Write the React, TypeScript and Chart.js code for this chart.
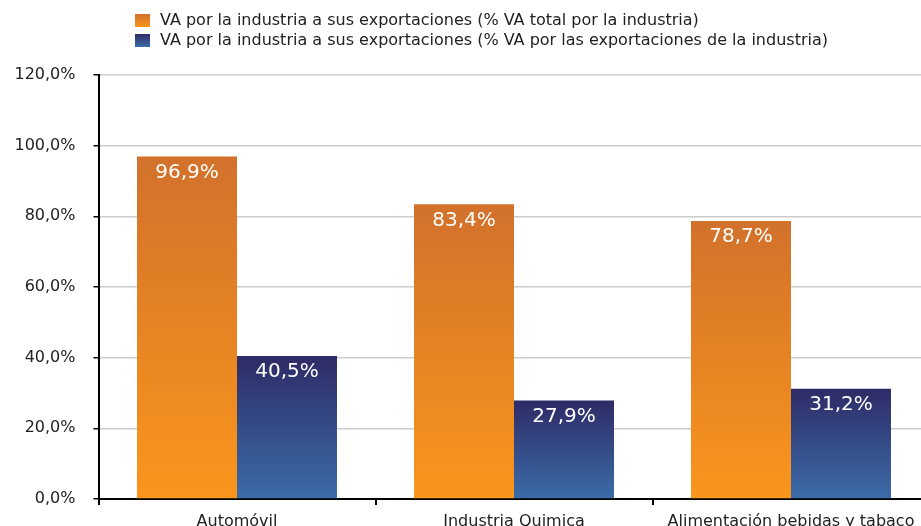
import React, { useEffect, useRef } from "react";
import { Chart, registerables } from "chart.js";

Chart.register(...registerables);

const categories = ["Automóvil", "Industria Quimica", "Alimentación bebidas y tabaco"];
const seriesNames = [
  "VA por la industria a sus exportaciones (% VA total por la industria)",
  "VA por la industria a sus exportaciones (% VA por las exportaciones de la industria)",
];
const seriesTotal = [96.9, 83.4, 78.7];
const seriesExports = [40.5, 27.9, 31.2];
const yTicks = [0, 20, 40, 60, 80, 100, 120];

const FONT = "'DejaVu Sans', 'Liberation Sans', sans-serif";
const ORANGE = ["#D2712B", "#FA961C"];
const BLUE = ["#2E2B66", "#3B6CA8"];

const fmt = (v: number) => v.toFixed(1).replace(".", ",") + "%";

function barGradient(colors: string[]) {
  return (ctx: any) => {
    const chart = ctx.chart;
    const y = chart.scales?.y;
    if (!y || ctx.parsed == null) return colors[1];
    const top = y.getPixelForValue(ctx.parsed.y);
    const bottom = y.getPixelForValue(0);
    if (!isFinite(top) || !isFinite(bottom) || top === bottom) return colors[1];
    const g = chart.ctx.createLinearGradient(0, top, 0, bottom);
    g.addColorStop(0, colors[0]);
    g.addColorStop(1, colors[1]);
    return g;
  };
}

const legendPlugin = {
  id: "customLegend",
  afterDraw(chart: any) {
    const c = chart.ctx;
    const items = [
      { text: seriesNames[0], colors: ORANGE, y: 14 },
      { text: seriesNames[1], colors: BLUE, y: 34 },
    ];
    c.save();
    items.forEach((it) => {
      const g = c.createLinearGradient(0, it.y, 0, it.y + 13);
      g.addColorStop(0, it.colors[0]);
      g.addColorStop(1, it.colors[1]);
      c.fillStyle = g;
      c.fillRect(135, it.y, 15, 13);
      c.fillStyle = "#222222";
      c.font = `16px ${FONT}`;
      c.textBaseline = "middle";
      c.textAlign = "left";
      c.fillText(it.text, 160, it.y + 7);
    });
    c.restore();
  },
};

const valueLabelPlugin = {
  id: "valueLabels",
  afterDatasetsDraw(chart: any) {
    const c = chart.ctx;
    c.save();
    c.fillStyle = "#FFFFFF";
    c.font = `20px ${FONT}`;
    c.textAlign = "center";
    c.textBaseline = "middle";
    chart.data.datasets.forEach((ds: any, di: number) => {
      const meta = chart.getDatasetMeta(di);
      meta.data.forEach((bar: any, i: number) => {
        c.fillText(fmt(ds.data[i]), bar.x, bar.y + 16);
      });
    });
    c.restore();
  },
};

export default function App() {
  const ref = useRef<HTMLCanvasElement | null>(null);

  useEffect(() => {
    if (!ref.current) return;
    const chart = new Chart(ref.current, {
      type: "bar",
      data: {
        labels: categories,
        datasets: [
          {
            label: seriesNames[0],
            data: seriesTotal,
            backgroundColor: barGradient(ORANGE),
            categoryPercentage: 0.722,
            barPercentage: 1,
          },
          {
            label: seriesNames[1],
            data: seriesExports,
            backgroundColor: barGradient(BLUE),
            categoryPercentage: 0.722,
            barPercentage: 1,
          },
        ],
      },
      options: {
        animation: false,
        responsive: false,
        maintainAspectRatio: false,
        layout: { padding: { top: 75, left: 0, right: 10.5, bottom: 0 } },
        plugins: {
          legend: { display: false },
          tooltip: { enabled: false },
        },
        scales: {
          x: {
            grid: {
              display: true,
              drawOnChartArea: false,
              drawTicks: true,
              tickLength: 6,
              tickColor: "#000000",
              lineWidth: 2,
            },
            border: { display: true, color: "#000000", width: 2 },
            ticks: {
              color: "#222222",
              font: { family: FONT, size: 16 },
              padding: 7,
              maxRotation: 0,
              autoSkip: false,
            },
            afterFit: (s: any) => {
              s.height = 41;
            },
          },
          y: {
            min: 0,
            max: 120,
            afterBuildTicks: (s: any) => {
              s.ticks = yTicks.map((v) => ({ value: v }));
            },
            grid: {
              color: "#CCCCCC",
              lineWidth: 1.5,
              drawTicks: true,
              tickLength: 5,
              tickColor: "#000000",
            },
            border: { display: true, color: "#000000", width: 2 },
            ticks: {
              color: "#222222",
              font: { family: FONT, size: 16 },
              padding: 18,
              callback: (v: any) => fmt(Number(v)),
            },
            afterFit: (s: any) => {
              s.width = 98.5;
            },
          },
        },
      },
      plugins: [legendPlugin, valueLabelPlugin],
    });
    return () => chart.destroy();
  }, []);

  return (
    <div style={{ position: "fixed", left: 0, top: 0, width: 921, height: 526, overflow: "hidden", background: "#fff" }}>
      <canvas ref={ref} width={940} height={540} style={{ display: "block", width: 940, height: 540 }} />
    </div>
  );
}
